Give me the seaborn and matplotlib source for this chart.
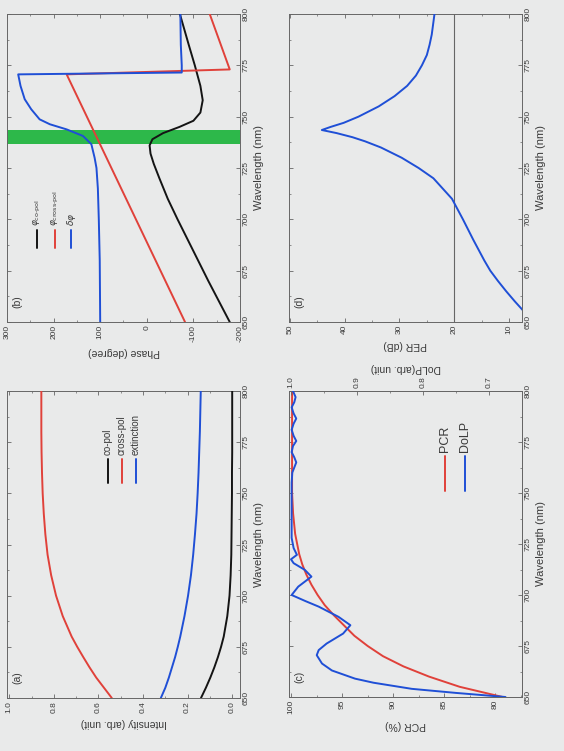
import seaborn as sns
import matplotlib.pyplot as plt
from matplotlib.ticker import MultipleLocator

# ---- data ----
# (a) intensities
wl_a = [650, 655, 660, 665, 670, 675, 680, 690, 700, 710, 720, 730, 740, 750, 760, 770, 780, 790, 800]
co_pol = [0.14, 0.118, 0.098, 0.08, 0.064, 0.05, 0.038, 0.022, 0.012, 0.007, 0.004, 0.003, 0.002,
          0.001, 0.001, 0.0, 0.0, 0.0, 0.0]
cross_pol = [0.54, 0.575, 0.61, 0.64, 0.668, 0.695, 0.72, 0.76, 0.79, 0.812, 0.828, 0.838, 0.845,
             0.85, 0.853, 0.855, 0.856, 0.856, 0.856]
extinction = [0.32, 0.30, 0.284, 0.27, 0.256, 0.244, 0.233, 0.214, 0.198, 0.185, 0.175, 0.167, 0.16,
              0.155, 0.151, 0.148, 0.145, 0.143, 0.141]

# (b) phases
wl_co = [650, 660, 670, 680, 690, 700, 710, 720, 727, 732, 736, 739, 742, 745, 748, 752, 758, 765,
         775, 785, 800]
phi_co = [-178, -155, -132, -110, -88, -66, -45, -27, -15, -8, -6, -12, -35, -70, -100, -115, -120,
          -115, -103, -90, -71]
wl_cross = [650, 770.6, 773, 800]
phi_cross = [-82, 172, -178, -135]
wl_dphi = [650, 680, 700, 715, 725, 730, 736.6, 740.6, 743.8, 746.3, 748.7, 753.6, 758.5, 765, 770.6,
           771.5, 775, 785, 800]
dphi = [100, 101, 103, 105, 108, 112, 119, 137, 172, 208, 230, 248, 262, 271, 276, -75, -75, -73, -72]
band = (736.5, 743.5)

# (c) PCR and DoLP
wl_pcr = [650, 655, 660, 665, 670, 675, 680, 685, 690, 695, 700, 705, 710, 715, 720, 730, 740, 750,
          760, 770, 780, 790, 800]
pcr = [79.3, 83.5, 86.5, 89.0, 91.0, 92.5, 93.8, 94.8, 95.8, 96.7, 97.4, 98.0, 98.5, 98.9, 99.2,
       99.6, 99.8, 99.9, 99.9, 99.9, 99.9, 99.9, 99.9]
wl_dolp = [650, 652, 654, 657, 659, 663, 666.4, 670.5, 673, 676.2, 681.1, 685.2, 689.3, 694.3, 697,
           700, 704.1, 709, 712.3, 715.6, 717.5, 719.7, 723, 728, 740, 755, 760, 762.5, 765, 767.5,
           770, 773, 775.5, 778, 781, 784, 786.5, 789, 792, 794.5, 797, 800]
dolp = [0.675, 0.75, 0.817, 0.875, 0.903, 0.938, 0.953, 0.961, 0.958, 0.946, 0.921, 0.910, 0.928,
        0.958, 0.978, 0.999, 0.989, 0.969, 0.979, 0.996, 1.0, 0.991, 0.996, 0.999, 0.999, 0.999,
        0.998, 0.995, 0.992, 0.995, 0.999, 0.997, 0.992, 0.996, 0.999, 0.996, 0.992, 0.996, 0.999,
        0.995, 0.993, 0.997]

# (d) PER
wl_per = [650, 655, 660, 665, 670, 675, 680, 690, 700, 710, 720, 725, 730, 735, 738, 740, 742, 743.5,
          745, 747, 750, 755, 760, 765, 770, 775, 780, 785, 790, 800]
per = [5.5, 7.2, 8.9, 10.5, 12.0, 13.4, 14.5, 16.5, 18.4, 20.4, 23.8, 26.5, 29.6, 33.4, 36.3, 38.6,
       41.5, 44.2, 42.6, 40.2, 37.5, 33.8, 30.9, 28.6, 27.0, 25.9, 25.0, 24.5, 24.1, 23.6]

RED = '#e0413a'
BLUE = '#1f4fd6'
BLACK = '#141414'
GREEN = '#2db84a'
PAPER = '#e9eaea'
INK = '#3a3a3a'

sns.set_style('ticks')
plt.rcParams['font.family'] = ['Liberation Sans', 'DejaVu Sans']
plt.rcParams['axes.unicode_minus'] = False
plt.rcParams['axes.edgecolor'] = '#666666'
plt.rcParams['axes.linewidth'] = 0.7
plt.rcParams['text.color'] = INK
plt.rcParams['axes.labelcolor'] = INK
plt.rcParams['xtick.color'] = '#666666'
plt.rcParams['ytick.color'] = '#666666'
plt.rcParams['xtick.labelcolor'] = INK
plt.rcParams['ytick.labelcolor'] = INK

fig = plt.figure(figsize=(5.64, 7.51), dpi=100, facecolor=PAPER)
W, H = 564.0, 751.0


def make_axes(x0, y0, x1, y1):
    ax = fig.add_axes([x0 / W, 1 - y1 / H, (x1 - x0) / W, (y1 - y0) / H])
    ax.set_facecolor(PAPER)
    return ax


def style(ax, xlim, xmaj, xmin, xlabel):
    # wavelength runs up the page, the quantity runs right to left
    ax.set_ylim(650, 800)
    ax.set_xlim(*xlim)
    ax.yaxis.set_major_locator(MultipleLocator(25))
    ax.yaxis.set_minor_locator(MultipleLocator(12.5))
    ax.xaxis.set_major_locator(MultipleLocator(xmaj))
    ax.xaxis.set_minor_locator(MultipleLocator(xmin))
    ax.tick_params(which='both', direction='in', top=True, bottom=True, left=True, right=True,
                   labelleft=False, labelright=True, labelsize=6, pad=2)
    ax.tick_params(which='major', length=3, width=0.6)
    ax.tick_params(which='minor', length=1.6, width=0.5)
    for lab in ax.get_xticklabels():
        lab.set_rotation(90)
    for lab in ax.get_yticklabels():
        lab.set_rotation(90)
        lab.set_va('center')
    ax.yaxis.set_label_position('right')
    ax.set_ylabel('Wavelength (nm)', fontsize=8, rotation=90, labelpad=3)
    ax.set_xlabel(xlabel, fontsize=7.5, rotation=180, labelpad=4)


def line(ax, x, y, color, lw=1.4):
    sns.lineplot(x=x, y=y, orient='y', estimator=None, sort=False, color=color,
                 linewidth=lw, ax=ax, zorder=3)


def rot_legend(ax, entries, xs, y0, y1, size):
    for (label, color), x in zip(entries, xs):
        ax.plot([x, x], [y0, y1], color=color, lw=1.4, transform=ax.transAxes)
        ax.text(x, y1 + 0.012, label, rotation=90, ha='center', va='bottom', fontsize=size,
                transform=ax.transAxes)


def panel_tag(ax, tag):
    ax.text(0.045, 0.065, tag, rotation=90, ha='center', va='center', fontsize=7.5,
            transform=ax.transAxes)


# (b) phase  -- image top-left
ax_b = make_axes(7, 14, 240, 322)
ax_b.axhspan(*band, color=GREEN, lw=0, zorder=1)
line(ax_b, phi_co, wl_co, BLACK)
line(ax_b, phi_cross, wl_cross, RED)
line(ax_b, dphi, wl_dphi, BLUE)
style(ax_b, (300, -200), 100, 50, 'Phase (degree)')
rot_legend(ax_b, [(r'$\varphi_{\text{co-pol}}$', BLACK),
                  (r'$\varphi_{\text{cross-pol}}$', RED),
                  (r'$\delta\varphi$', BLUE)],
           [0.129, 0.206, 0.275], 0.24, 0.30, 6.5)
panel_tag(ax_b, '(b)')

# (d) PER  -- image top-right
ax_d = make_axes(289, 14, 522, 322)
ax_d.axvline(20, color='#666666', lw=0.8, zorder=2)
line(ax_d, per, wl_per, BLUE)
style(ax_d, (50.2, 7.6), 10, 5, 'PER (dB)')
panel_tag(ax_d, '(d)')

# (a) intensity  -- image bottom-left
ax_a = make_axes(7, 391, 240, 698)
line(ax_a, co_pol, wl_a, BLACK)
line(ax_a, cross_pol, wl_a, RED)
line(ax_a, extinction, wl_a, BLUE)
style(ax_a, (1.01, -0.035), 0.2, 0.1, 'Intensity (arb. unit)')
rot_legend(ax_a, [('co-pol', BLACK), ('cross-pol', RED), ('extinction', BLUE)],
           [0.433, 0.494, 0.554], 0.70, 0.778, 7)
panel_tag(ax_a, '(a)')

# (c) PCR / DoLP  -- image bottom-right
ax_c = make_axes(289, 391, 522, 697)
line(ax_c, pcr, wl_pcr, RED)
style(ax_c, (100.2, 77.4), 5, 2.5, 'PCR (%)')
ax_c2 = ax_c.twiny()
ax_c2.set_xlim(1.003, 0.65)
line(ax_c2, dolp, wl_dolp, BLUE)
ax_c2.set_ylim(650, 800)
ax_c2.xaxis.set_major_locator(MultipleLocator(0.1))
ax_c2.xaxis.set_minor_locator(MultipleLocator(0.05))
ax_c2.tick_params(axis='x', which='both', direction='in', labelsize=6, pad=2)
ax_c2.tick_params(axis='x', which='major', length=3, width=0.6)
ax_c2.tick_params(axis='x', which='minor', length=1.6, width=0.5)
for lab in ax_c2.get_xticklabels():
    lab.set_rotation(90)
ax_c2.set_xlabel('DoLP(arb. unit)', fontsize=7.5, rotation=180, labelpad=4)
ax_c2.set_ylabel('')
rot_legend(ax_c, [('PCR', RED), ('DoLP', BLUE)], [0.67, 0.755], 0.673, 0.788, 9)
panel_tag(ax_c, '(c)')

fig.savefig('out.png', dpi=100, facecolor=PAPER)
